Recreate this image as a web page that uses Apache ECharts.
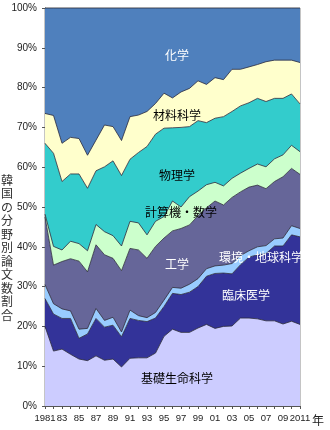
<!DOCTYPE html>
<html>
<head>
<meta charset="utf-8">
<script src="https://cdn.jsdelivr.net/npm/echarts@6/dist/echarts.min.js"></script>
<style>
  html, body { margin: 0; padding: 0; background: #fff; }
  #chart { width: 330px; height: 430px; }
</style>
</head>
<body>
<div id="chart"></div>
<script>
// 韓国の分野別論文数割合 (%), 1981–2011, stacked from the bottom up
const years = ['1981','1982','1983','1984','1985','1986','1987','1988','1989','1990',
  '1991','1992','1993','1994','1995','1996','1997','1998','1999','2000',
  '2001','2002','2003','2004','2005','2006','2007','2008','2009','2010','2011'];

const basicLife = [20.0,13.8,14.3,13.0,11.8,11.4,12.6,11.5,11.8,9.8,12.0,12.1,12.1,13.3,17.5,19.3,
  18.5,18.5,19.6,20.5,19.5,20.0,20.1,22.1,22.1,21.9,21.4,21.4,20.6,21.3,20.5];
const clinical = [7.0,9.3,7.7,9.0,5.2,6.7,9.4,8.3,8.5,7.6,10.0,9.4,9.1,8.8,7.5,9.0,
  9.5,10.1,10.4,12.1,13.8,13.4,13.1,13.4,15.3,16.1,16.9,18.8,19.6,21.7,22.0];
const envEarth = [3.5,2.6,2.4,1.9,2.3,1.4,2.5,1.7,2.0,1.2,2.1,1.2,1.0,1.4,1.6,1.5,
  1.6,2.0,2.0,1.9,1.9,2.0,2.6,2.3,1.6,2.0,2.0,1.8,2.0,2.3,2.1];
const engineering = [17.0,9.7,11.9,13.1,17.1,14.2,16.0,16.5,14.8,15.4,15.5,16.5,14.9,16.6,15.6,14.2,
  15.0,14.9,15.8,15.3,16.3,15.1,16.6,16.0,16.0,15.5,14.3,14.4,15.4,14.4,13.6];
const computerMath = [0.7,4.7,2.9,4.4,4.4,5.3,5.1,5.8,5.7,6.2,6.8,6.8,5.9,6.3,5.4,7.5,
  5.4,7.1,6.2,5.8,4.7,4.8,4.8,4.7,4.7,5.3,5.5,5.7,5.5,5.8,5.7];
const physics = [17.8,23.4,17.2,16.9,17.5,15.7,13.5,16.3,18.8,17.7,15.6,17.7,22.2,21.9,22.2,18.4,
  20.0,17.6,17.7,15.6,16.1,17.4,16.8,16.9,16.5,16.5,16.4,15.2,14.2,12.9,12.0];
const materials = [7.5,9.5,9.6,9.2,8.9,8.3,7.7,10.5,8.6,8.8,10.7,9.4,8.8,7.7,8.8,7.5,
  8.9,9.6,10.0,9.6,10.2,9.3,10.6,9.2,9.0,8.5,10.0,9.6,9.6,8.5,10.4];
const chemistry = [26.5,27.0,34.0,32.5,32.8,37.0,33.2,29.4,29.8,33.3,27.3,26.9,26.0,24.0,21.4,22.6,
  21.1,20.2,18.3,19.2,17.5,18.0,15.4,15.4,14.8,14.2,13.5,13.1,13.1,13.1,13.7];

const yTicks = { min: 0, max: 100, step: 10 };
const axisTitle = '韓国の分野別論文数割合';
const yearUnit = '年';

const fields = [
  { name: '基礎生命科学', data: basicLife, color: '#ccccff' },
  { name: '臨床医学', data: clinical, color: '#333399' },
  { name: '環境・地球科学', data: envEarth, color: '#99ccff' },
  { name: '工学', data: engineering, color: '#666699' },
  { name: '計算機・数学', data: computerMath, color: '#ccffcc' },
  { name: '物理学', data: physics, color: '#33cccc' },
  { name: '材料科学', data: materials, color: '#ffffcc' },
  { name: '化学', data: chemistry, color: '#4f80bd' }
];

const areaLabels = [
  { text: '化学', x: 177, y: 55, fill: '#fff' },
  { text: '材料科学', x: 177, y: 115, fill: '#000' },
  { text: '物理学', x: 177, y: 175, fill: '#000' },
  { text: '計算機・数学', x: 181, y: 212, fill: '#000' },
  { text: '工学', x: 177, y: 264, fill: '#fff' },
  { text: '環境・地球科学', x: 261, y: 257, fill: '#fff' },
  { text: '臨床医学', x: 246, y: 295, fill: '#fff' },
  { text: '基礎生命科学', x: 177, y: 378, fill: '#000' }
];

const labelFont = '"Noto Sans CJK JP", "Noto Sans", sans-serif';
const tickFont = '"Liberation Sans", Arial, sans-serif';

const chart = echarts.init(document.getElementById('chart'), null, { renderer: 'canvas' });

// vertical axis title: one upright character per row
const titleChars = axisTitle.split('').map((ch, i) => ({
  type: 'text',
  x: 7, y: 180 + i * 13.5,
  style: {
    text: ch,
    font: '12px ' + labelFont,
    fill: '#333',
    textAlign: 'center',
    textVerticalAlign: 'middle'
  }
}));

chart.setOption({
  animation: false,
  backgroundColor: '#fff',
  grid: {
    left: 45, right: 30, top: 8, bottom: 24,
    show: true, borderColor: '#8a8a8a', borderWidth: 1, backgroundColor: 'transparent'
  },
  xAxis: {
    type: 'category',
    data: years,
    boundaryGap: false,
    axisLine: { lineStyle: { color: '#555', width: 1 } },
    axisTick: { show: true, interval: 0, length: 3, lineStyle: { color: '#555' } },
    axisLabel: {
      interval: 1,
      margin: 7,
      color: '#222',
      fontSize: 9.5,
      fontFamily: tickFont,
      showMinLabel: true,
      showMaxLabel: true,
      hideOverlap: false,
      formatter: v => (v === '1981' || v === '2011') ? v : v.slice(2)
    },
    splitLine: { show: false }
  },
  yAxis: {
    type: 'value',
    min: yTicks.min, max: yTicks.max, interval: yTicks.step,
    axisLine: { show: true, lineStyle: { color: '#555', width: 1 } },
    axisTick: { show: true, length: 3, lineStyle: { color: '#555' } },
    axisLabel: {
      margin: 8,
      color: '#222',
      fontSize: 10,
      fontFamily: tickFont,
      showMinLabel: true,
      showMaxLabel: true,
      formatter: '{value}%'
    },
    splitLine: { show: false }
  },
  series: fields.map(f => ({
    name: f.name,
    type: 'line',
    stack: 'share',
    data: f.data,
    showSymbol: false,
    symbol: 'none',
    lineStyle: { color: '#2a2a3a', width: 0.8 },
    areaStyle: { color: f.color, opacity: 1 },
    itemStyle: { color: f.color },
    z: 2
  })),
  graphic: [
    ...titleChars,
    {
      type: 'text',
      x: 318, y: 420,
      style: {
        text: yearUnit, font: '12px ' + labelFont, fill: '#222',
        textAlign: 'center', textVerticalAlign: 'middle'
      }
    },
    ...areaLabels.map(l => ({
      type: 'text',
      x: l.x, y: l.y,
      z: 100,
      style: {
        text: l.text,
        font: '12px ' + labelFont,
        fill: l.fill,
        textAlign: 'center',
        textVerticalAlign: 'middle'
      }
    }))
  ]
});
</script>
</body>
</html>
